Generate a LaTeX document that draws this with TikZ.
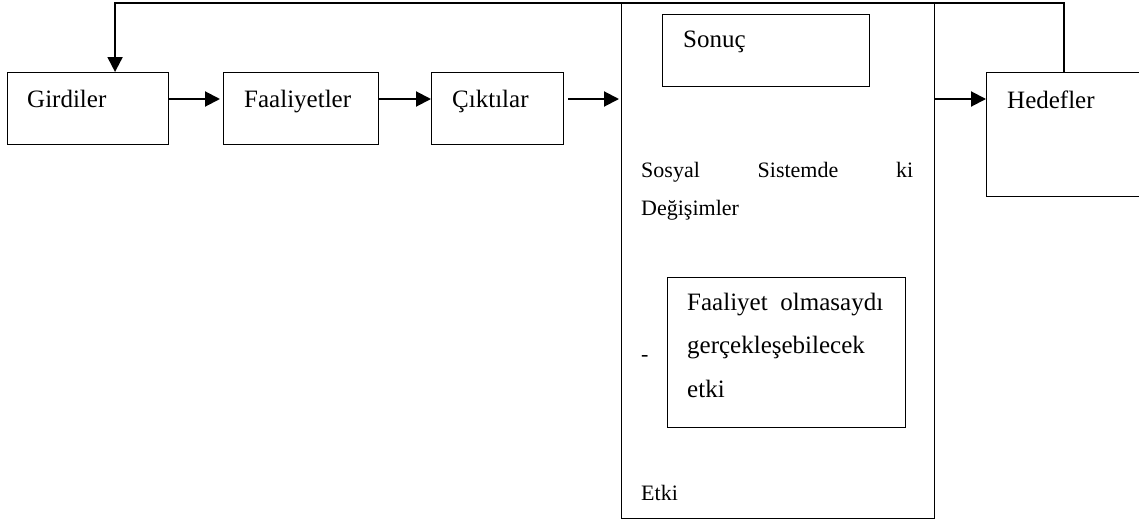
\documentclass[tikz,border=0pt]{standalone}
\usepackage{fontspec}
\setmainfont{Liberation Serif}
\usetikzlibrary{arrows.meta}

\newcommand{\boxfont}{\fontsize{25}{43.5}\selectfont}
\newcommand{\notefont}{\fontsize{22}{38}\selectfont}

\begin{document}
\begin{tikzpicture}[x=1pt, y=-1pt,
    box/.style={draw, line width=1.1pt, inner sep=0pt, anchor=north west},
    txt/.style={anchor=base west, inner sep=0pt, font=\boxfont},
    note/.style={anchor=base west, inner sep=0pt, font=\notefont, align=left},
    flow/.style={line width=2pt, -{Triangle[length=15pt, width=15pt]}}]

\useasboundingbox (0,0) rectangle (1139,525);
\clip (0,0) rectangle (1139,525);

% ---- Boxes ----
\node[box, minimum width=161pt, minimum height=72pt] (girdiler) at (7,72) {};
\node[box, minimum width=155pt, minimum height=72pt] (faaliyetler) at (223,72) {};
\node[box, minimum width=132pt, minimum height=72pt] (ciktilar) at (431,72) {};
\node[box, minimum width=313pt, minimum height=515pt] (etki) at (621,3) {};
\node[box, minimum width=207pt, minimum height=72pt] (sonuc) at (662,14) {};
\node[box, minimum width=238pt, minimum height=150pt] (karsi) at (667,277) {};
% Hedefler runs off the right edge
\node[box, minimum width=170pt, minimum height=124pt] (hedefler) at (986,72) {};

% ---- Labels ----
\node[txt] (girdiler-t) at (27,107) {Girdiler};
\node[txt] (faaliyetler-t) at (244,107) {Faaliyetler};
\node[txt] (ciktilar-t) at (452,107) {Çıktılar};
\node[txt] (hedefler-t) at (1007,108) {Hedefler};
\node[txt] (sonuc-t) at (683,47) {Sonuç};
% (base of a multi-line node = its last line)
\node[note] (degisim-t) at (641,215)
    {\makebox[272pt][s]{Sosyal Sistemde ki}\\Değişimler};
\node[txt, align=left] (karsi-t) at (687,397)
    {\makebox[196pt][s]{Faaliyet olmasaydı}\\gerçekleşebilecek\\etki};
\node[note] (tire-t) at (641,361) {-};
\node[note] (etki-t) at (641,500) {Etki};

% ---- Flow arrows ----
\coordinate (line) at (0,99);
\draw[flow, shorten >=3pt] (girdiler.east |- line) -- (faaliyetler.west |- line);
\draw[flow] (faaliyetler.east |- line) -- (ciktilar.west |- line);
\draw[flow, shorten <=4pt, shorten >=2pt] (ciktilar.east |- line) -- (etki.west |- line);
\draw[flow] (etki.east |- line) -- (hedefler.west |- line);

% Feedback back to Girdiler
\draw[line width=1.2pt] ([xshift=78pt]hedefler.north west) |- (etki.north east);
\draw[flow] (etki.north east) -| ([xshift=27pt]girdiler.north);

\end{tikzpicture}
\end{document}
